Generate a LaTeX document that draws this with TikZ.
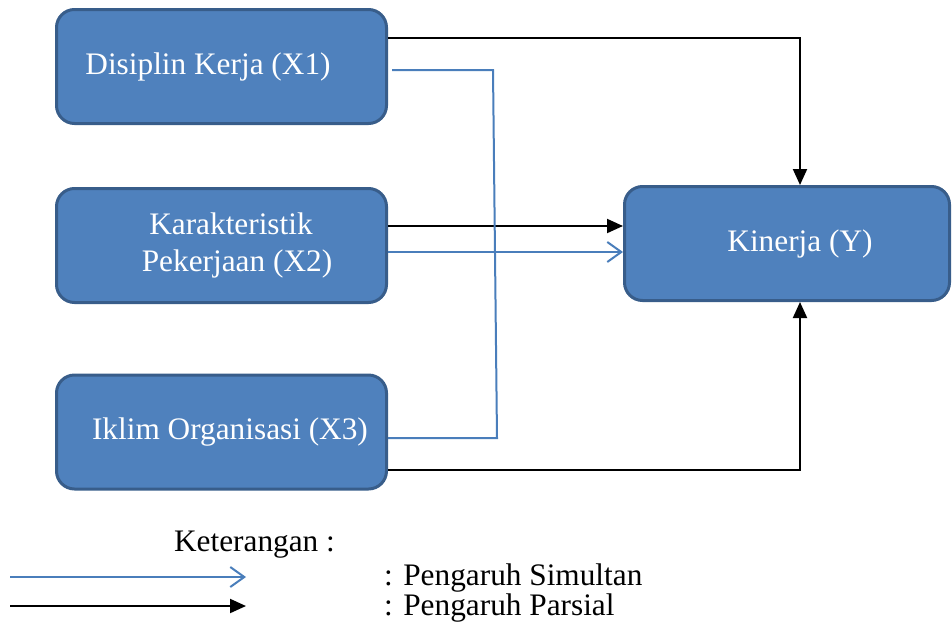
\documentclass[tikz,border=0pt]{standalone}
\usepackage{fontspec}
\setmainfont{Liberation Serif}
\usepackage{tikz}
\usetikzlibrary{arrows.meta, positioning, calc}
\definecolor{boxfill}{RGB}{79,129,189}
\definecolor{boxline}{RGB}{56,93,138}
\definecolor{simline}{RGB}{74,126,187}
\tikzset{
  varbox/.style={draw=boxline, fill=boxfill, line width=3pt, rounded corners=18pt,
    minimum width=330pt, minimum height=114pt, inner sep=0pt, align=center,
    text=white, font=\fontsize{31.3}{37}\selectfont},
  legtext/.style={font=\fontsize{31.3}{37}\selectfont, inner sep=0pt},
  parsial/.style={line width=2pt, -{Triangle[length=16pt,width=14pt]}},
  simultan/.style={simline, line width=2pt, -{Straight Barb[length=14pt,width=20pt]}},
}
\begin{document}
\begin{tikzpicture}[x=1pt, y=-1pt]
    \useasboundingbox (0,0) rectangle (952,632);
    % variables
    \node[varbox] (x1) at (221.5,66.5) {Disiplin Kerja (X1)\hspace*{27pt}};
    \node[varbox] (x2) at (221.5,245.5) {\hspace*{19pt}Karakteristik\\\hspace*{31pt}Pekerjaan (X2)};
    \node[varbox] (x3) at (221.5,432) {\hspace*{17pt}Iklim Organisasi (X3)};
    \node[varbox, minimum width=325pt] (ky) at (787,243.5) {\hspace*{26pt}Kinerja (Y)};
    % pengaruh parsial
    \draw[parsial] ([yshift=28.5]x1.east) -| ([xshift=13]ky.north);
    \draw[parsial] ([yshift=19.5]x2.east) -- ([yshift=19.5]x2.east -| ky.west);
    \draw[parsial] ([yshift=-38]x3.east) -| ([xshift=13]ky.south);
    % pengaruh simultan
    \coordinate (b1) at (493,70);
    \coordinate (b2) at (497,438);
    \draw[simline, line width=2pt] ([yshift=-3.5,xshift=4]x1.east) -- (b1) -- (b2) -- ([yshift=-6]x3.east);
    \draw[simultan] ([yshift=-6.5]x2.east) -- ([yshift=-6.5]x2.east -| ky.west);
    % keterangan
    \node[legtext] (ket) at (254.5,545) {Keterangan :};
    \coordinate (s0) at (10,577);
    \coordinate (s1) at (246,577);
    \coordinate (p0) at (10,606);
    \coordinate (p1) at (246,606);
    \draw[simultan] (s0) -- (s1);
    \draw[parsial] (p0) -- (p1);
    \node[legtext, anchor=west] (simtext) at (384,578) {: Pengaruh Simultan};
    \node[legtext, anchor=west] (partext) at (384,608) {: Pengaruh Parsial};
\end{tikzpicture}
\end{document}
